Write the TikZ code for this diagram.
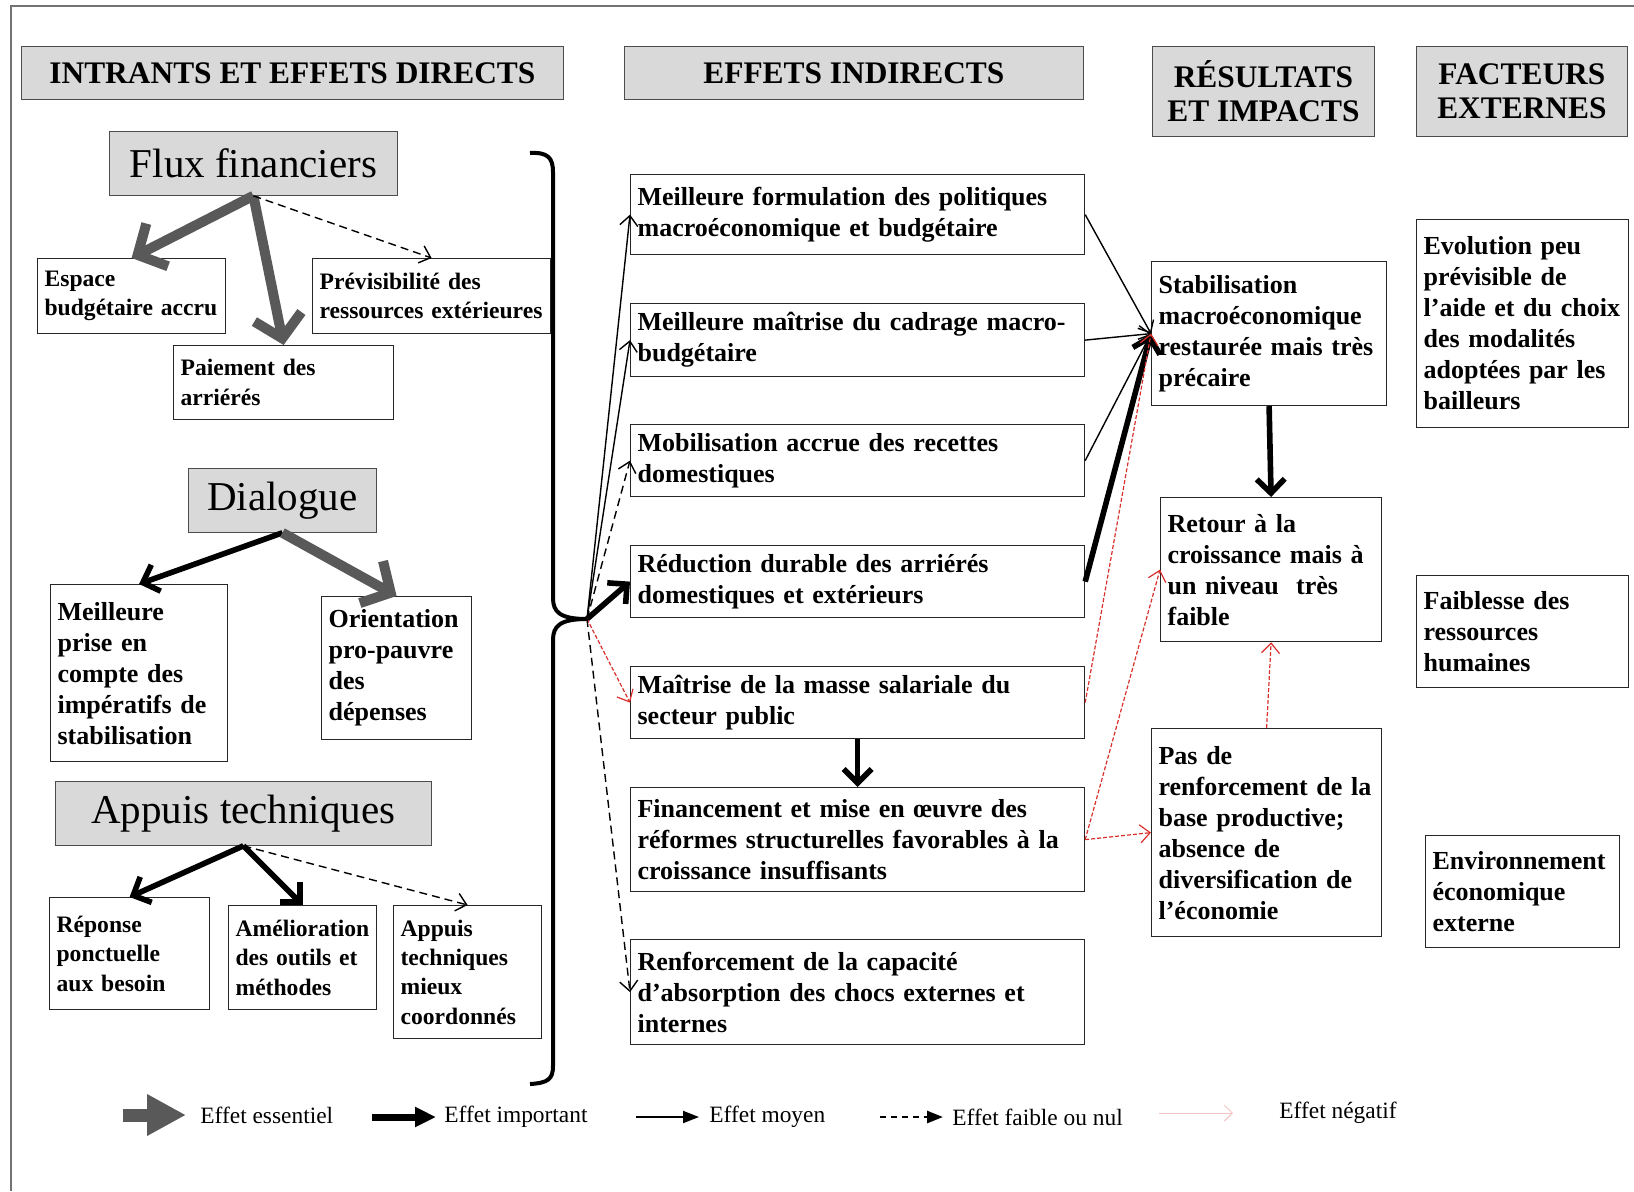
\documentclass[tikz,border=0pt]{standalone}
\usepackage{fontspec}
\setmainfont{Liberation Serif}
\usepackage{tikz}
\usetikzlibrary{positioning, arrows.meta}
\definecolor{hdrgray}{HTML}{D9D9D9}
\definecolor{essgray}{HTML}{595959}
\definecolor{negred}{HTML}{D9302C}
\definecolor{negpink}{HTML}{F2C4C0}

\begin{document}
\begin{tikzpicture}[
    x=0.5pt, y=-0.5pt,
    hdr/.style={rectangle, draw=black!70, fill=hdrgray, anchor=north west, inner sep=0pt, align=center,
                font=\fontsize{15.7}{17}\selectfont\bfseries},
    ttl/.style={rectangle, draw=black!70, fill=hdrgray, anchor=north west, inner sep=0pt,
                font=\fontsize{20.5}{24}\selectfont},
    box/.style={rectangle, draw=black!85, line width=0.6pt, anchor=north west, align=left,
                inner xsep=3.5pt, inner ysep=0pt, font=\fontsize{13}{15.5}\selectfont\bfseries},
    sbox/.style={box, font=\fontsize{11.8}{14.7}\selectfont\bfseries},
    lgd/.style={anchor=west, inner sep=0pt, font=\fontsize{11.7}{14}\selectfont},
    ess/.style={line width=5pt, draw=essgray, -{Straight Barb[length=11pt, width=24pt]}},
    imp/.style={line width=2.8pt, -{Straight Barb[length=7pt, width=14pt]}},
    moy/.style={line width=0.7pt, -{Straight Barb[length=5pt, width=9pt]}},
    fai/.style={moy, dash pattern=on 4pt off 2.5pt},
    neg/.style={line width=0.6pt, draw=negred, dash pattern=on 2pt off 1pt, -{Straight Barb[length=5pt, width=9pt]}},
    brc/.style={line width=2pt, line join=round}
]
    \useasboundingbox (0,0) rectangle (1634,1191);
    \draw[black!55, line width=0.8pt] (11,1191) -- (11,6) -- (1634,6);

    \node[hdr, minimum width=271pt, minimum height=26.5pt] (hIntr) at (21,46) {INTRANTS ET EFFETS DIRECTS};
    \node[hdr, minimum width=229.5pt, minimum height=26.5pt] (hIndir) at (624,46) {EFFETS INDIRECTS};
    \node[hdr, minimum width=111pt, minimum height=45pt] (hRes) at (1152,46) {RÉSULTATS\\ET IMPACTS};
    \node[hdr, minimum width=105.5pt, minimum height=45pt] (hExt) at (1416,46) {FACTEURS\\EXTERNES};

    \node[ttl, minimum width=144pt, minimum height=32pt] (tFlux) at (109,131) {Flux financiers};
    \node[sbox, minimum width=94pt, text width=87pt, minimum height=37.5pt] (bEsp) at (37,258) {Espace\\budgétaire accru};
    \node[sbox, minimum width=119pt, text width=112pt, minimum height=37.5pt] (bPrev) at (312,258) {Prévisibilité des\\ressources extérieures};
    \node[sbox, minimum width=110pt, text width=103pt, minimum height=37pt] (bPai) at (173,345) {Paiement des\\arriérés};

    \node[ttl, minimum width=94pt, minimum height=32pt] (tDial) at (188,468) {Dialogue};
    \node[box, minimum width=88.5pt, text width=81.5pt, minimum height=88.5pt] (bMeil) at (50,584) {Meilleure\\prise en\\compte des\\impératifs de\\stabilisation};
    \node[box, minimum width=75pt, text width=68pt, minimum height=71.5pt] (bOri) at (321,596) {Orientation\\pro-pauvre\\des\\dépenses};

    \node[ttl, minimum width=188pt, minimum height=32pt] (tApp) at (55,781) {Appuis techniques};
    \node[sbox, minimum width=80pt, text width=73pt, minimum height=56pt] (bRep) at (49,897) {Réponse\\ponctuelle\\aux besoin};
    \node[sbox, minimum width=74pt, text width=67pt, minimum height=52pt] (bAme) at (228,905) {Amélioration\\des outils et\\méthodes};
    \node[sbox, minimum width=74pt, text width=67pt, minimum height=66.5pt] (bCoo) at (393,905) {Appuis\\techniques\\mieux\\coordonnés};

    \node[box, minimum width=227pt, text width=220pt, minimum height=40pt] (m1) at (630,174) {Meilleure formulation des politiques\\macroéconomique et budgétaire};
    \node[box, minimum width=227pt, text width=220pt, minimum height=36.5pt] (m2) at (630,303) {Meilleure maîtrise du cadrage macro-\\budgétaire};
    \node[box, minimum width=227pt, text width=220pt, minimum height=36pt] (m3) at (630,424) {Mobilisation accrue des recettes\\domestiques};
    \node[box, minimum width=227pt, text width=220pt, minimum height=36pt] (m4) at (630,545) {Réduction durable des arriérés\\domestiques et extérieurs};
    \node[box, minimum width=227pt, text width=220pt, minimum height=36pt] (m5) at (630,666) {Maîtrise de la masse salariale du\\secteur public};
    \node[box, minimum width=227pt, text width=220pt, minimum height=52pt] (m6) at (630,787) {Financement et mise en œuvre des\\réformes structurelles favorables à la\\croissance insuffisants};
    \node[box, minimum width=227pt, text width=220pt, minimum height=52.5pt] (m7) at (630,939) {Renforcement de la capacité\\d’absorption des chocs externes et\\internes};

    \node[box, minimum width=117.5pt, text width=110.5pt, minimum height=72pt] (rStab) at (1151,261) {Stabilisation\\macroéconomique\\restaurée mais très\\précaire};
    \node[box, minimum width=110.5pt, text width=103.5pt, minimum height=72pt] (rRet) at (1160,497) {Retour à la\\croissance mais à\\un niveau~ très\\faible};
    \node[box, minimum width=115pt, text width=108pt, minimum height=104pt] (rPas) at (1151,728) {Pas de\\renforcement de la\\base productive;\\absence de\\diversification de\\l’économie};

    \node[box, minimum width=106pt, text width=99pt, minimum height=104pt] (eEvo) at (1416,219) {Evolution peu\\prévisible de\\l’aide et du choix\\des modalités\\adoptées par les\\bailleurs};
    \node[box, minimum width=106pt, text width=99pt, minimum height=56pt] (eFai) at (1416,575) {Faiblesse des\\ressources\\humaines};
    \node[box, minimum width=97pt, text width=90pt, minimum height=56pt] (eEnv) at (1425,835) {Environnement\\économique\\externe};

    \coordinate (tip) at (587,619);
    \draw[brc] (530,153) .. controls (548,152) and (553,158) .. (553,172) -- (553,598)
        .. controls (553,612) and (560,619) .. (tip)
        .. controls (560,619) and (553,626) .. (553,640) -- (553,1066)
        .. controls (553,1079) and (548,1083) .. (530,1084);

    \draw[ess] (tFlux.south) -- (bEsp.north);
    \draw[ess] (tFlux.south) -- (bPai.north);
    \draw[fai] (tFlux.south) -- (bPrev.north);
    \draw[imp] (tDial.south) -- (bMeil.north);
    \draw[ess] (tDial.south) -- (bOri.north);
    \draw[imp] (tApp.south) -- (bRep.north);
    \draw[imp] (tApp.south) -- (bAme.north);
    \draw[fai] (tApp.south) -- (bCoo.north);

    \draw[moy] (tip) -- (m1.west);
    \draw[moy] (tip) -- (m2.west);
    \draw[fai] (tip) -- (m3.west);
    \draw[imp] (tip) -- (m4.west);
    \draw[neg] (tip) -- (m5.west);
    \draw[fai] (tip) -- (m7.west);
    \draw[imp] (m5.south) -- (m6.north);

    \draw[moy] (m1.east) -- (rStab.west);
    \draw[moy] (m2.east) -- (rStab.west);
    \draw[moy] (m3.east) -- (rStab.west);
    \draw[imp] (m4.east) -- (rStab.west);
    \draw[neg] (m5.east) -- (rStab.west);
    \draw[neg] (m6.east) -- (rRet.west);
    \draw[neg] (m6.east) -- (rPas.west);
    \draw[imp] (rStab.south) -- (rRet.north);
    \draw[neg] (rPas.north) -- (rRet.south);

    \node[lgd] (lEss) at (200,1115) {Effet essentiel};
    \node[lgd] (lImp) at (444,1117) {Effet important};
    \node[lgd] (lMoy) at (709,1117) {Effet moyen};
    \node[lgd] (lFai) at (952,1117) {Effet faible ou nul};
    \node[lgd] (lNeg) at (1279,1113) {Effet négatif};
    \draw[line width=6.5pt, essgray, -{Triangle[length=19.5pt, width=19.5pt]}] ([xshift=-38.5pt]lEss.west) -- ([xshift=-7pt]lEss.west);
    \draw[line width=3.5pt, -{Triangle[length=10.5pt, width=9.5pt]}] ([xshift=-36pt]lImp.west) -- ([xshift=-4pt]lImp.west);
    \draw[line width=1pt, -{Triangle[length=8pt, width=6pt]}] ([xshift=-36.5pt]lMoy.west) -- ([xshift=-5pt]lMoy.west);
    \draw[line width=1.3pt, dash pattern=on 3pt off 2.5pt, -{Triangle[length=8pt, width=6pt]}] ([xshift=-36pt]lFai.west) -- ([xshift=-4.5pt]lFai.west);
    \draw[line width=0.5pt, negpink, -{Straight Barb[length=4pt, width=8pt]}] ([xshift=-60pt]lNeg.west) -- ([xshift=-23pt]lNeg.west);
\end{tikzpicture}
\end{document}
